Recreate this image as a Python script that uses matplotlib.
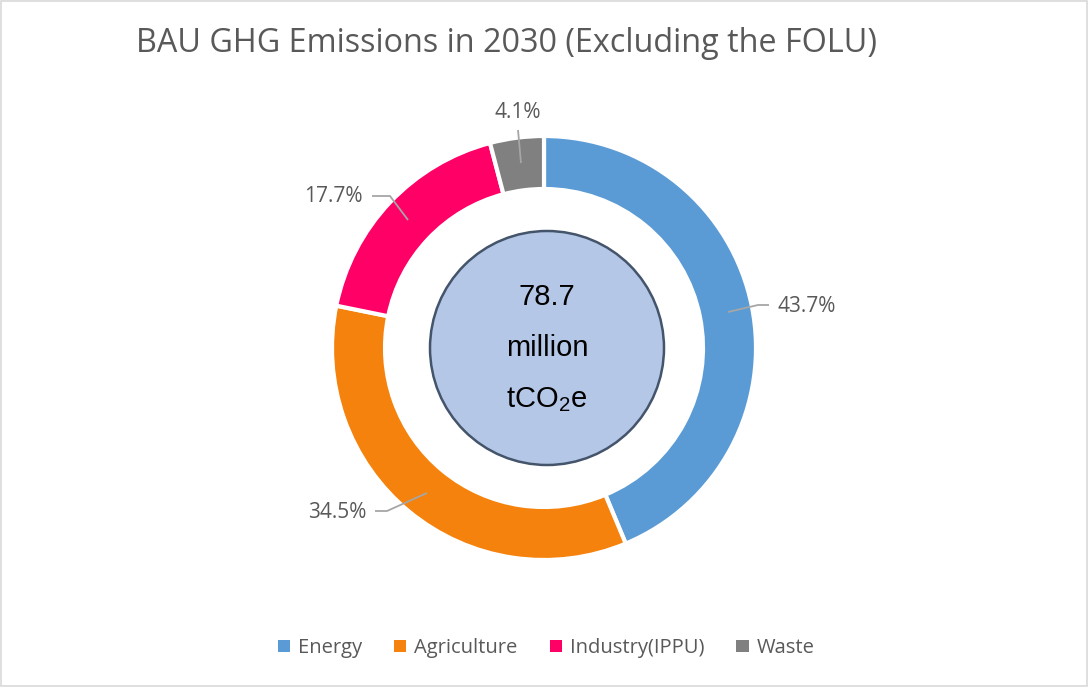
import matplotlib
matplotlib.use("Agg")
import matplotlib.pyplot as plt
from matplotlib.patches import Circle, Rectangle

categories = ["Energy", "Agriculture", "Industry(IPPU)", "Waste"]
shares = [43.7, 34.5, 17.7, 4.1]
colors = ["#5B9BD5", "#F5820C", "#FF0066", "#808080"]
title = "BAU GHG Emissions in 2030 (Excluding the FOLU)"
center_lines = ["78.7", "million", "tCO$_\\mathregular{2}$e"]

W, H = 1088, 687
plt.rcParams["mathtext.fontset"] = "custom"
plt.rcParams["mathtext.rm"] = "Liberation Sans"

fig = plt.figure(figsize=(W / 100, H / 100), dpi=100)
ax = fig.add_axes([0, 0, 1, 1])

def Y(y):
    return H - y

cx, cy, R, width = 544, Y(348), 212, 53
wedges, _ = ax.pie(shares, colors=colors, startangle=90, counterclock=False,
                   center=(cx, cy), radius=R, frame=True,
                   wedgeprops=dict(width=width, edgecolor="white", linewidth=3))
ax.set_xlim(0, W)
ax.set_ylim(0, H)
ax.set_aspect("equal")
ax.axis("off")

# frame
ax.add_patch(Rectangle((1, 1), W - 2, H - 2, fill=False, edgecolor="#D9D9D9", lw=1.2))

# centre circle
ax.add_patch(Circle((547, Y(348)), 117, facecolor="#B4C7E7", edgecolor="#44546A", lw=1.8, zorder=3))
for txt, yy in zip(center_lines, [297, 348, 400]):
    ax.text(547, Y(yy), txt, ha="center", va="center", fontsize=21,
            family="Liberation Sans", color="black", zorder=4)

# labels with leader lines
label_layout = [
    ([(728, 312), (758, 305), (769, 305)], (777, 306), "left"),
    ([(427, 493), (387, 511), (375, 511)], (366, 512), "right"),
    ([(408, 220), (390, 196), (372, 196)], (363, 196), "right"),
    ([(521, 163), (518, 130)], (518, 112), "center"),
]
for val, (pts, (tx, ty), ha) in zip(shares, label_layout):
    xs = [p[0] for p in pts]
    ys = [Y(p[1]) for p in pts]
    ax.plot(xs, ys, color="#A6A6A6", lw=1.3, zorder=5, solid_capstyle="butt")
    ax.text(tx, Y(ty), f"{val:.1f}%", ha=ha, va="center", fontsize=15,
            family="Open Sans", color="#595959", zorder=5)

ax.text(506, Y(44), title, ha="center", va="center", fontsize=23.3,
        family="Open Sans", color="#595959")

# legend
handles = [Rectangle((0, 0), 1, 1, facecolor=c, edgecolor="none") for c in colors]
leg = fig.legend(handles, categories, loc="center", bbox_to_anchor=(546 / W, 1 - 648 / H),
                 ncol=4, frameon=False, handlelength=0.6, handleheight=0.6,
                 handletextpad=0.4, columnspacing=1.6,
                 prop=dict(family="Open Sans", size=14.5))
for t in leg.get_texts():
    t.set_color("#595959")

fig.savefig("out.png", dpi=100)
